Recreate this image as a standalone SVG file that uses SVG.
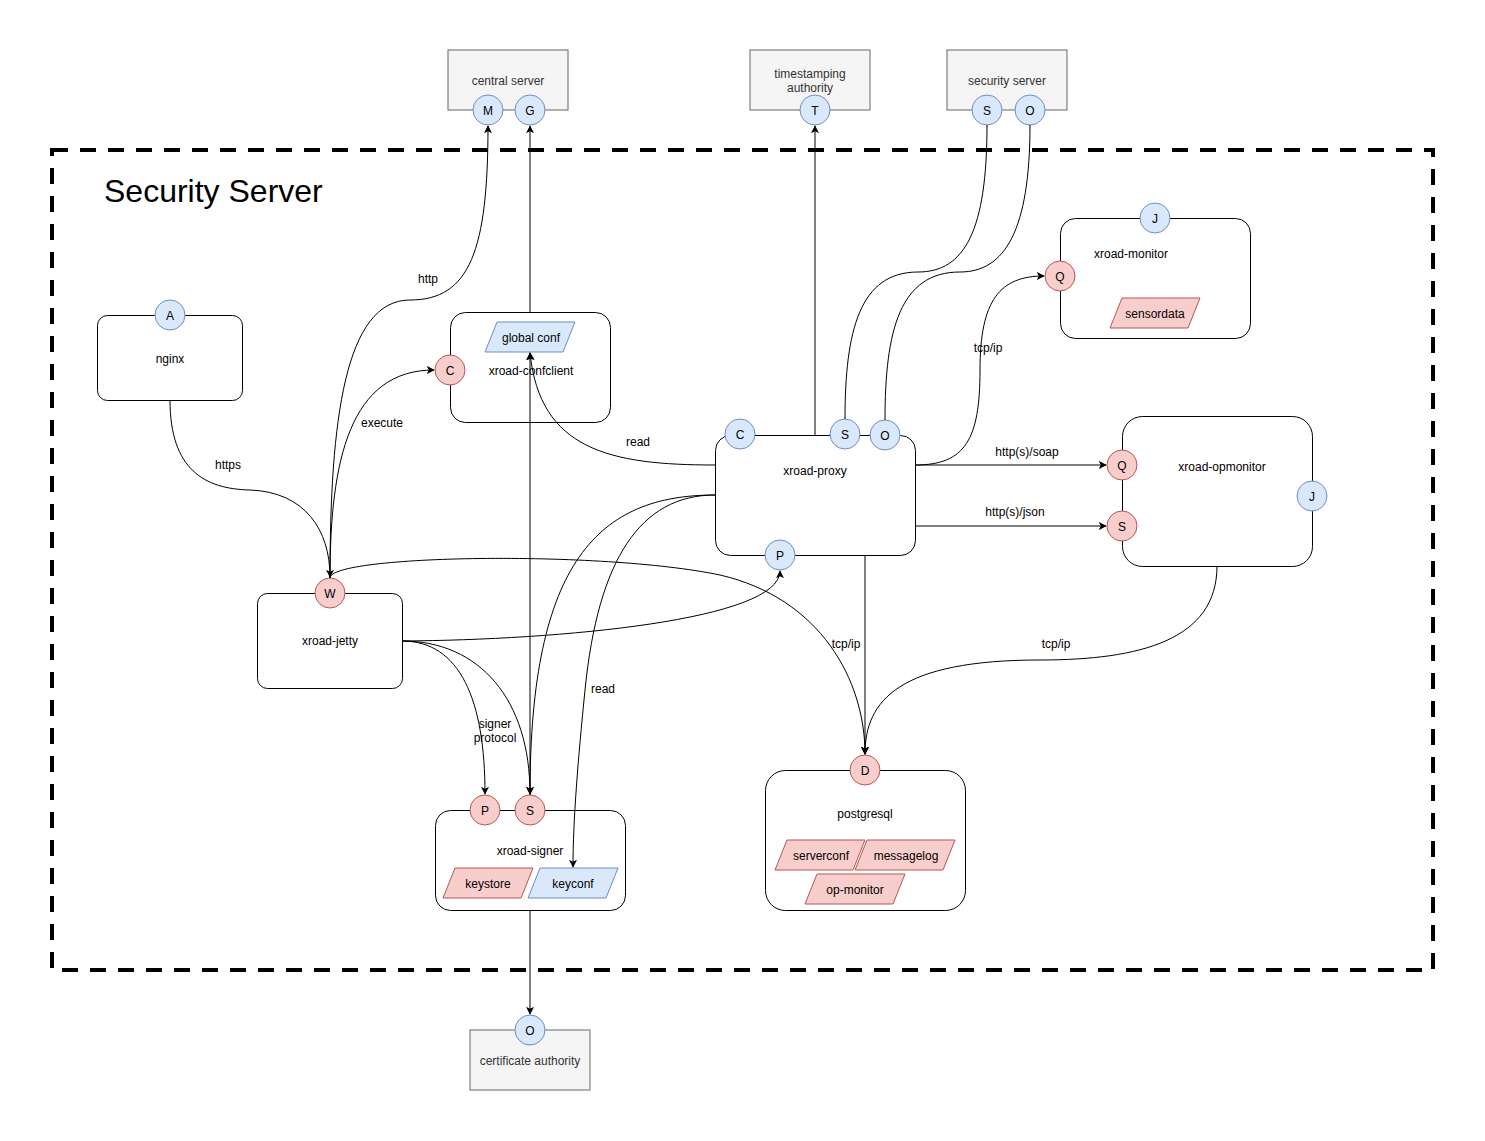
<svg xmlns="http://www.w3.org/2000/svg" width="1485" height="1141" viewBox="0 0 1485 1141">
  <defs>
    <marker id="arrow" viewBox="0 0 10 10" refX="9" refY="5" markerWidth="8" markerHeight="8" markerUnits="userSpaceOnUse" orient="auto">
      <path d="M0,0 L10,5 L0,10 L2.5,5 Z" fill="#000"/>
    </marker>
    <style>
      text { font-family: "Liberation Sans", Arial, sans-serif; font-size: 12px; fill: #000; text-anchor: middle; }
      .ext rect { fill: #f5f5f5; stroke: #666; stroke-width: 1; }
      .ext text { fill: #333; }
      .box { fill: #fff; stroke: #000; stroke-width: 1; }
      .blue { fill: #dae8fc; stroke: #6c8ebf; stroke-width: 1; }
      .red { fill: #f8cecc; stroke: #b85450; stroke-width: 1; }
      .edge { fill: none; stroke: #000; stroke-width: 1; }
      .arr { marker-end: url(#arrow); }
    </style>
  </defs>
  <rect width="1485" height="1141" fill="#fff"/>

  <!-- security server boundary -->
  <g id="boundary">
    <rect x="52" y="150" width="1381" height="820" fill="none" stroke="#000" stroke-width="4" stroke-dasharray="16 12"/>
    <text x="104" y="202" style="font-size:32px;text-anchor:start">Security Server</text>
  </g>

  <!-- external systems -->
  <g id="central-server" class="ext">
    <rect x="448" y="50" width="120" height="60"/>
    <text x="508" y="85">central server</text>
    <circle class="blue" cx="488" cy="110" r="15"/>
    <text x="488" y="115" style="fill:#000">M</text>
    <circle class="blue" cx="530" cy="110" r="15"/>
    <text x="530" y="115" style="fill:#000">G</text>
  </g>
  <g id="timestamping-authority" class="ext">
    <rect x="750" y="50" width="120" height="60"/>
    <text x="810" y="78">timestamping</text>
    <text x="810" y="92">authority</text>
    <circle class="blue" cx="815" cy="110" r="15"/>
    <text x="815" y="115" style="fill:#000">T</text>
  </g>
  <g id="remote-security-server" class="ext">
    <rect x="947" y="50" width="120" height="60"/>
    <text x="1007" y="85">security server</text>
    <circle class="blue" cx="987" cy="110" r="15"/>
    <text x="987" y="115" style="fill:#000">S</text>
    <circle class="blue" cx="1030" cy="110" r="15"/>
    <text x="1030" y="115" style="fill:#000">O</text>
  </g>
  <g id="certificate-authority" class="ext">
    <rect x="470" y="1030" width="120" height="60"/>
    <text x="530" y="1065">certificate authority</text>
    <circle class="blue" cx="530" cy="1030" r="15"/>
    <text x="530" y="1035" style="fill:#000">O</text>
  </g>

  <!-- internal components -->
  <g id="nginx">
    <rect class="box" x="97.5" y="315.5" width="145" height="85" rx="10"/>
    <text x="170" y="363">nginx</text>
    <circle class="blue" cx="170" cy="315" r="15"/>
    <text x="170" y="320">A</text>
  </g>
  <g id="xroad-confclient">
    <rect class="box" x="450.5" y="312.5" width="160" height="110" rx="15"/>
    <polygon class="blue" points="497,322 575,322 563,352 485,352"/>
    <text x="531" y="342">global conf</text>
    <text x="531" y="375">xroad-confclient</text>
    <circle class="red" cx="450" cy="370" r="15"/>
    <text x="450" y="375">C</text>
  </g>
  <g id="xroad-proxy">
    <rect class="box" x="715.5" y="435.5" width="200" height="120" rx="15"/>
    <text x="815" y="475">xroad-proxy</text>
    <circle class="blue" cx="740" cy="434" r="15"/>
    <text x="740" y="439">C</text>
    <circle class="blue" cx="845" cy="434" r="15"/>
    <text x="845" y="439">S</text>
    <circle class="blue" cx="885" cy="435" r="15"/>
    <text x="885" y="440">O</text>
    <circle class="blue" cx="780" cy="555" r="15"/>
    <text x="780" y="560">P</text>
  </g>
  <g id="xroad-monitor">
    <rect class="box" x="1060.5" y="218.5" width="190" height="120" rx="15"/>
    <text x="1131" y="258">xroad-monitor</text>
    <polygon class="red" points="1122,298 1200,298 1188,328 1110,328"/>
    <text x="1155" y="318">sensordata</text>
    <circle class="blue" cx="1155" cy="218" r="15"/>
    <text x="1155" y="223">J</text>
    <circle class="red" cx="1060" cy="276" r="15"/>
    <text x="1060" y="281">Q</text>
  </g>
  <g id="xroad-opmonitor">
    <rect class="box" x="1122.5" y="416.5" width="190" height="150" rx="20"/>
    <text x="1222" y="471">xroad-opmonitor</text>
    <circle class="red" cx="1122" cy="465" r="15"/>
    <text x="1122" y="470">Q</text>
    <circle class="red" cx="1122" cy="526" r="15"/>
    <text x="1122" y="531">S</text>
    <circle class="blue" cx="1312" cy="496" r="15"/>
    <text x="1312" y="501">J</text>
  </g>
  <g id="xroad-jetty">
    <rect class="box" x="257.5" y="593.5" width="145" height="95" rx="10"/>
    <text x="330" y="645">xroad-jetty</text>
    <circle class="red" cx="330" cy="593" r="15"/>
    <text x="330" y="598">W</text>
  </g>
  <g id="xroad-signer">
    <rect class="box" x="435.5" y="810.5" width="190" height="100" rx="15"/>
    <text x="530" y="855">xroad-signer</text>
    <polygon class="red" points="455,868 533,868 521,898 443,898"/>
    <text x="488" y="888">keystore</text>
    <polygon class="blue" points="540,868 618,868 606,898 528,898"/>
    <text x="573" y="888">keyconf</text>
    <circle class="red" cx="485" cy="810" r="15"/>
    <text x="485" y="815">P</text>
    <circle class="red" cx="530" cy="810" r="15"/>
    <text x="530" y="815">S</text>
  </g>
  <g id="postgresql">
    <rect class="box" x="765.5" y="770.5" width="200" height="140" rx="20"/>
    <text x="865" y="818">postgresql</text>
    <polygon class="red" points="787,840 865,840 853,870 775,870"/>
    <text x="821" y="860">serverconf</text>
    <polygon class="red" points="867,840 955,840 943,870 855,870"/>
    <text x="906" y="860">messagelog</text>
    <polygon class="red" points="817,874 905,874 893,904 805,904"/>
    <text x="855" y="894">op-monitor</text>
    <circle class="red" cx="865" cy="770" r="15"/>
    <text x="865" y="775">D</text>
  </g>

  <!-- connectors, drawn over the component boxes -->
  <g id="connectors">
    <path class="edge arr" d="M170,400 C170,470 205,489 250,490 C305,492 330,530 330,577"/>
    <path class="edge arr" d="M330,578 C330,420 345,300 410,300 C470,300 488,250 488,126"/>
    <path class="edge arr" d="M330,578 C330,460 350,370 434,370"/>
    <path class="edge arr" d="M330,578 C330,555 600,550 720,575 C820,598 865,680 865,754"/>
    <path class="edge arr" d="M530,312 L530,126"/>
    <path class="edge arr" d="M815,435 L815,126"/>
    <path class="edge" d="M987,125 C987,230 965,272 918,272 C860,272 845,330 845,419"/>
    <path class="edge" d="M1030,125 C1030,230 1005,272 960,272 C900,272 885,330 885,420"/>
    <path class="edge arr" d="M915,465 C965,465 980,440 980,370 C980,300 1000,276 1044,276"/>
    <path class="edge arr" d="M915,465 L1106,465"/>
    <path class="edge arr" d="M915,526 L1106,526"/>
    <path class="edge arr" d="M715,465 C610,465 540,450 530,353"/>
    <path class="edge arr" d="M530,795 L530,353"/>
    <path class="edge arr" d="M715,495 C600,495 530,560 530,794"/>
    <path class="edge arr" d="M715,495 C640,495 598,560 585,690 C578,760 573,820 573,867"/>
    <path class="edge arr" d="M402,641 C560,640 780,620 780,571"/>
    <path class="edge arr" d="M402,641 C460,641 485,700 485,794"/>
    <path class="edge arr" d="M402,641 C480,641 530,700 530,794"/>
    <path class="edge arr" d="M865,555 L865,754"/>
    <path class="edge arr" d="M1217,566 C1217,640 1140,660 1040,660 C900,660 865,700 865,754"/>
    <path class="edge arr" d="M530,910 L530,1014"/>

    <text x="228" y="469">https</text>
    <text x="428" y="283">http</text>
    <text x="382" y="427">execute</text>
    <text x="638" y="446">read</text>
    <text x="603" y="693">read</text>
    <text x="495" y="728">signer</text>
    <text x="495" y="742">protocol</text>
    <text x="988" y="352">tcp/ip</text>
    <text x="1027" y="456">http(s)/soap</text>
    <text x="1015" y="516">http(s)/json</text>
    <text x="846" y="648">tcp/ip</text>
    <text x="1056" y="648">tcp/ip</text>
  </g>
</svg>
